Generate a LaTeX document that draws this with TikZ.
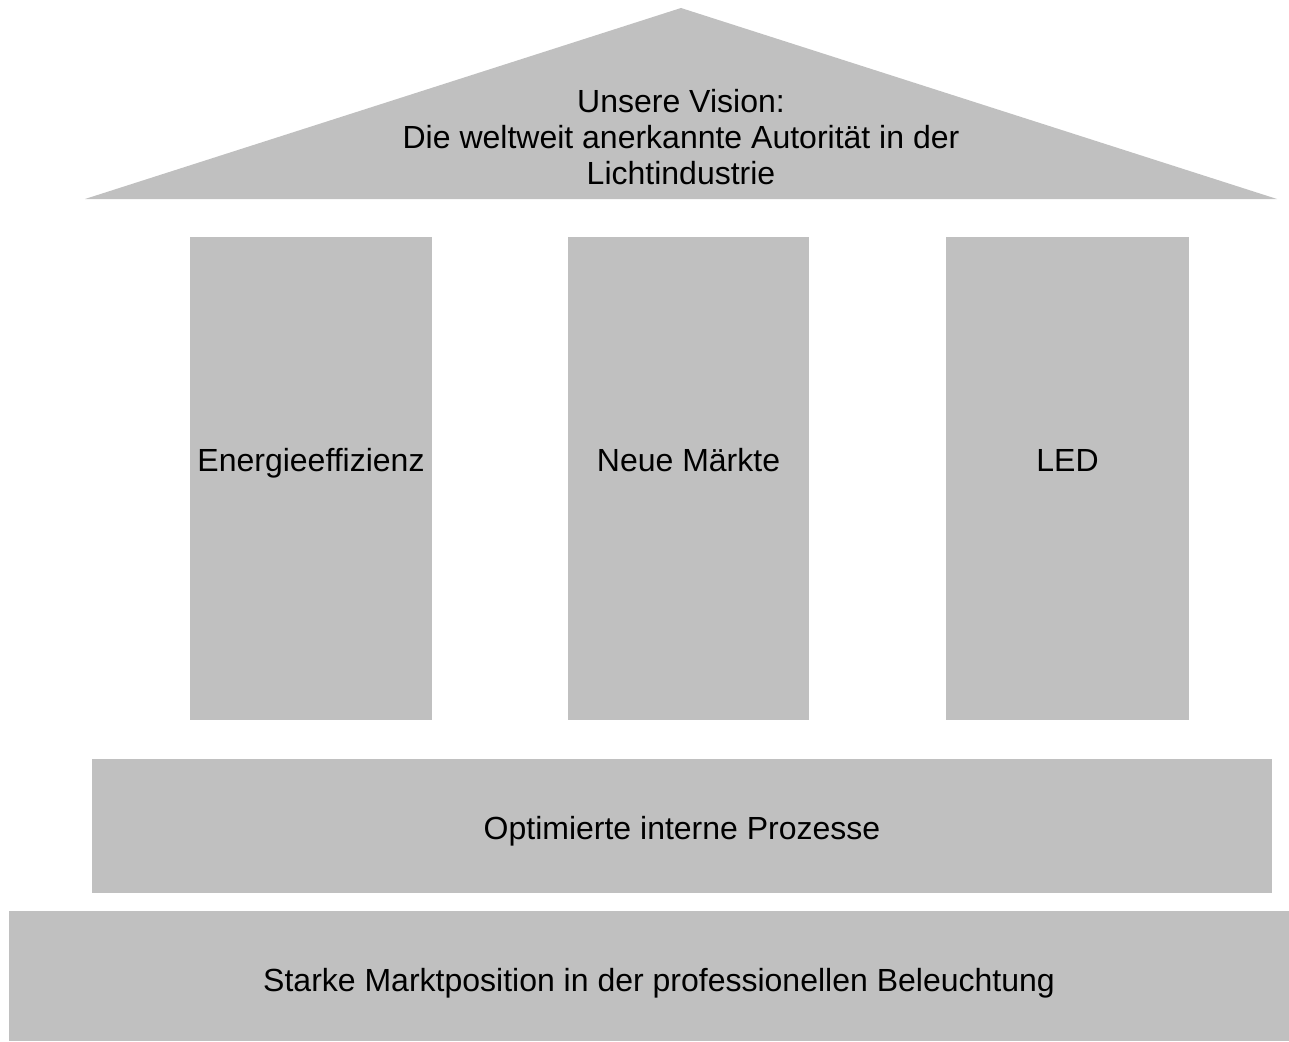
\documentclass[tikz,border=0pt]{standalone}
\usepackage{fontspec}
\setmainfont{Liberation Sans}
\definecolor{fillgray}{HTML}{C0C0C0}
\begin{document}
\begin{tikzpicture}[x=1pt,y=-1pt,
  block/.style={fill=fillgray,draw=none},
  lbl/.style={font=\fontsize{32}{36}\selectfont,align=center,text=black,inner sep=0pt}]
\useasboundingbox (0,0) rectangle (1289,1041);
% roof
\fill[fillgray] (85,199) -- (681,8) -- (1277,199) -- cycle;
\node[lbl] (vision) at (681,137) {Unsere Vision:\\Die weltweit anerkannte Autorität in der\\Lichtindustrie};
% pillars
\fill[fillgray] (190,237) rectangle (432,720);
\fill[fillgray] (568,237) rectangle (809,720);
\fill[fillgray] (946,237) rectangle (1189,720);
\node[lbl,anchor=base] (p1) at (311,471) {Energieeffizienz};
\node[lbl,anchor=base] (p2) at (688.5,471) {Neue Märkte};
\node[lbl,anchor=base] (p3) at (1067.5,471) {LED};
% middle bar
\fill[fillgray] (92,759) rectangle (1272,893);
\node[lbl,anchor=base] (mid) at (682,839) {Optimierte interne Prozesse};
% base
\fill[fillgray] (9,911) rectangle (1289,1041);
\node[lbl,anchor=base] (base) at (659,991) {Starke Marktposition in der professionellen Beleuchtung};
\end{tikzpicture}
\end{document}
